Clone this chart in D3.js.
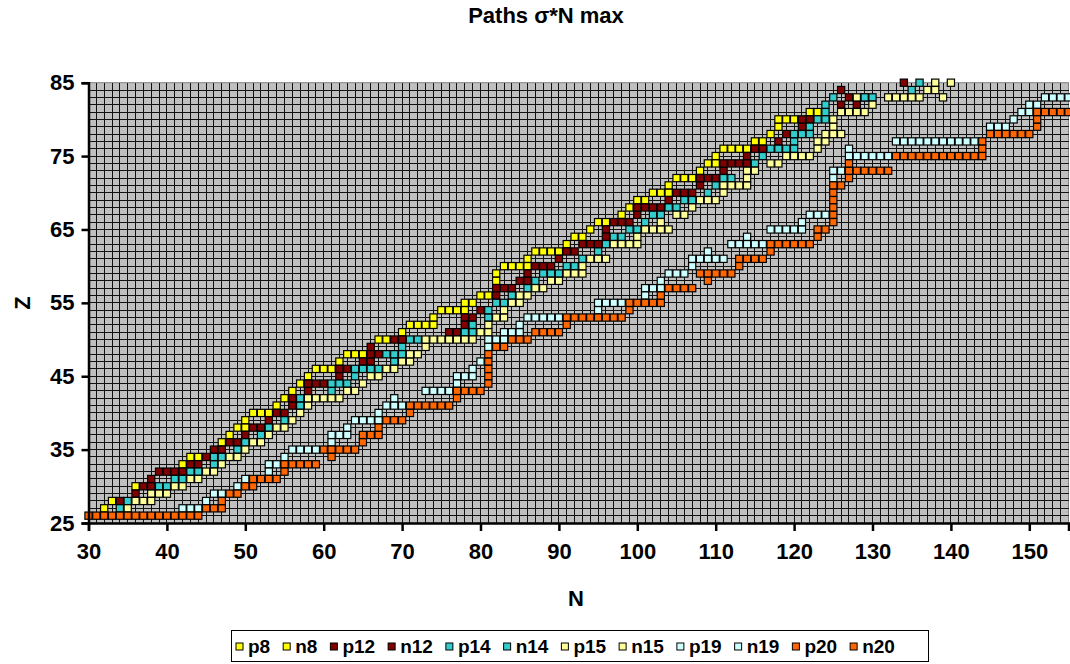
<!DOCTYPE html>
<html>
<head>
<meta charset="utf-8">
<title>Paths sigma*N max</title>
<script src="https://d3js.org/d3.v7.min.js"></script>
<style>
  body { margin: 0; background: #fff; }
  svg text { font-family: "Liberation Sans", Arial, sans-serif; font-weight: bold; fill: #000; }
</style>
</head>
<body>
<script>

// each entry is a run of markers on one row: [Z, first N, last N]
var p8  = [[27,32,32],[33,42,42],[37,48,48],[39,50,50],[41,54,54],[43,56,56],[45,58,58],[47,62,62],[51,70,70],[53,74,74],[55,78,79],[59,82,82],[61,86,86],[63,91,91],[65,94,94],[67,98,98],[69,100,101],[71,104,104],[73,108,108],[75,110,110],[77,115,116],[79,118,118],[81,122,123]];
var n8  = [[28,33,33],[30,36,36],[34,43,44],[36,47,47],[38,49,50],[40,51,53],[42,55,55],[44,57,57],[46,59,61],[48,63,65],[50,67,68],[52,71,74],[54,75,78],[56,80,81],[58,82,82],[60,83,86],[62,87,90],[64,92,93],[66,95,96],[68,99,99],[70,102,104],[72,105,107],[74,109,110],[76,111,114],[78,117,117],[80,118,120]];
var p12 = [[29,36,36],[31,38,38],[33,43,44],[35,46,47],[37,50,50],[39,53,53],[41,56,56],[43,58,58],[45,62,62],[47,65,66],[49,66,66],[51,76,77],[53,78,79],[57,82,84],[59,86,86],[61,90,90],[63,93,95],[65,96,96],[67,100,100],[69,104,104],[71,108,108],[73,111,111],[75,114,114],[77,118,118],[79,121,121],[83,127,127],[83,129,129],[85,134,134]];
var n12 = [[28,34,34],[30,37,38],[32,39,42],[34,45,45],[36,48,49],[38,51,52],[40,54,55],[42,56,56],[44,58,60],[46,62,63],[48,66,67],[50,69,70],[52,78,78],[54,80,80],[56,82,82],[58,85,86],[60,87,89],[62,91,92],[64,96,96],[66,97,99],[68,100,103],[70,105,107],[72,108,110],[74,111,114],[76,115,116],[78,119,119],[80,121,122],[82,126,126],[82,128,128],[84,126,126]];
var p14 = [[27,34,34],[31,41,42],[33,46,46],[35,49,49],[37,52,52],[39,55,55],[41,57,57],[43,61,61],[45,64,64],[47,69,69],[49,70,70],[51,78,79],[53,81,81],[55,82,83],[57,86,86],[59,88,90],[61,93,93],[63,96,96],[65,99,100],[67,102,103],[69,106,107],[71,110,110],[75,116,116],[77,120,120],[79,122,122],[81,124,124],[83,125,125],[83,129,130],[85,136,136]];
var n14 = [[28,35,35],[30,39,40],[32,43,44],[34,46,47],[36,50,50],[38,53,53],[42,57,57],[44,61,63],[46,64,67],[48,68,70],[50,71,72],[52,79,79],[54,81,81],[56,84,84],[58,87,87],[60,91,92],[62,95,95],[64,97,98],[66,101,101],[68,104,105],[70,109,109],[72,111,112],[74,115,115],[76,117,120],[78,120,122],[80,123,124],[82,124,124],[84,135,135]];
var p15 = [[27,35,35],[29,38,40],[31,43,44],[33,47,47],[35,50,50],[37,53,53],[39,56,56],[41,58,58],[43,63,64],[45,66,67],[47,70,71],[49,73,73],[51,80,81],[53,82,83],[55,84,85],[57,87,88],[59,91,93],[61,94,96],[63,97,100],[65,101,104],[67,105,106],[69,108,110],[71,111,114],[73,114,115],[75,119,122],[77,123,124],[79,125,125],[81,126,129],[83,128,128],[83,132,136],[83,139,139],[85,138,138],[85,140,140]];
var n15 = [[28,36,38],[30,41,42],[32,45,46],[34,48,49],[36,51,52],[38,54,55],[40,57,57],[42,58,62],[44,65,65],[46,68,69],[48,71,72],[50,73,79],[52,81,81],[54,83,83],[56,85,86],[58,89,90],[60,93,93],[64,100,100],[66,103,103],[68,107,107],[70,111,111],[72,114,114],[74,117,118],[76,123,123],[78,124,126],[80,125,125],[82,130,130],[84,137,138]];
var p19 = [[27,42,44],[29,46,47],[31,50,50],[33,53,54],[35,56,59],[37,61,63],[39,64,67],[41,68,70],[43,73,76],[45,77,79],[47,80,80],[49,81,81],[51,83,85],[53,86,90],[55,95,98],[57,101,103],[59,104,106],[61,107,111],[63,112,116],[65,117,121],[67,122,124],[73,125,126],[75,127,132],[77,133,143],[79,145,147],[81,149,150],[83,152,155]];
var n19 = [[28,45,45],[30,49,49],[32,53,53],[34,55,55],[36,61,61],[38,63,63],[40,67,67],[42,69,69],[44,77,77],[46,79,79],[50,81,83],[52,85,85],[54,95,95],[56,101,101],[58,103,103],[60,107,107],[62,109,109],[64,114,114],[66,121,121],[72,125,125],[76,127,127],[80,148,148],[82,150,151]];
var p20 = [[27,45,47],[29,48,49],[31,51,54],[33,55,59],[35,60,64],[37,65,67],[39,68,70],[41,71,76],[43,77,80],[45,81,81],[47,81,81],[49,82,83],[51,87,90],[53,91,98],[55,99,103],[57,104,107],[59,108,112],[61,113,116],[63,117,122],[65,123,124],[67,125,125],[69,125,125],[71,125,126],[73,127,132],[75,133,144],[77,144,144],[79,151,151],[81,151,155]];
var n20 = [[26,30,44],[28,47,47],[30,50,51],[32,55,55],[34,61,61],[36,65,65],[38,67,67],[40,71,71],[42,77,77],[44,81,81],[46,81,81],[48,81,81],[50,84,86],[52,91,91],[54,99,99],[56,103,103],[58,109,109],[60,113,113],[62,117,117],[64,123,123],[66,125,125],[68,125,125],[70,125,125],[72,127,127],[74,127,127],[76,144,144],[78,145,150],[80,151,151]];

var seriesNames = ['p8', 'n8', 'p12', 'n12', 'p14', 'n14', 'p15', 'n15', 'p19', 'n19', 'p20', 'n20'];
var seriesData = [p8, n8, p12, n12, p14, n14, p15, n15, p19, n19, p20, n20];
var seriesColors = ['#FFFF00', '#FFFF00', '#800000', '#800000', '#33CCCC', '#33CCCC',
                    '#FFFF99', '#FFFF99', '#CCFFFF', '#CCFFFF', '#FF6600', '#FF6600'];

var xDomain = [30, 155], yDomain = [25, 85];
var xTicks = [30, 40, 50, 60, 70, 80, 90, 100, 110, 120, 130, 140, 150];
var yTicks = [25, 35, 45, 55, 65, 75, 85];

var outerWidth = 1070, outerHeight = 664;
var plot = {left: 88.5, right: 1068.5, top: 82.7, bottom: 523};

var x = d3.scaleLinear().domain(xDomain).range([plot.left, plot.right]);
var y = d3.scaleLinear().domain(yDomain).range([plot.bottom, plot.top]);

// runs -> list of [N, Z] markers
function cells(runs) {
	var pts = [];
	runs.forEach(function(r) {
		for (var n = r[1]; n <= r[2]; n++) pts.push([n, r[0]]);
	});
	return pts;
}

var svg = d3.select('body')
			.append('svg')
			.attr('width', outerWidth)
			.attr('height', outerHeight);

// plot background
svg.append('rect')
   .attr('x', plot.left)
   .attr('y', plot.top)
   .attr('width', plot.right - plot.left)
   .attr('height', plot.bottom - plot.top)
   .attr('fill', '#C0C0C0')
   .attr('stroke', '#808080')
   .attr('stroke-width', 1);

// unit grid
var grid = svg.append('g')
			  .attr('stroke', '#111')
			  .attr('stroke-width', 1)
			  .attr('shape-rendering', 'crispEdges');

grid.selectAll('line.v')
	.data(d3.range(xDomain[0] + 1, xDomain[1]))
	.enter()
	.append('line')
	.attr('class', 'v')
	.attr('x1', function(d) { return x(d); })
	.attr('x2', function(d) { return x(d); })
	.attr('y1', plot.top)
	.attr('y2', plot.bottom);

grid.selectAll('line.h')
	.data(d3.range(yDomain[0] + 1, yDomain[1]))
	.enter()
	.append('line')
	.attr('class', 'h')
	.attr('y1', function(d) { return y(d); })
	.attr('y2', function(d) { return y(d); })
	.attr('x1', plot.left)
	.attr('x2', plot.right);

// markers, series in order so the later ones sit on top
var ms = 7.2;
seriesData.forEach(function(runs, i) {
	svg.append('g')
	   .attr('class', 'series ' + seriesNames[i])
	   .selectAll('rect')
	   .data(cells(runs))
	   .enter()
	   .append('rect')
	   .attr('x', function(d) { return x(d[0]) - ms / 2; })
	   .attr('y', function(d) { return y(d[1]) - ms / 2; })
	   .attr('width', ms)
	   .attr('height', ms)
	   .attr('fill', seriesColors[i])
	   .attr('stroke', '#000')
	   .attr('stroke-width', 1.2);
});

// axes
var xAxis = d3.axisBottom(x).tickValues(xTicks).tickSize(8).tickPadding(12).tickFormat(d3.format('d'));
var yAxis = d3.axisLeft(y).tickValues(yTicks).tickSize(7).tickPadding(7).tickFormat(d3.format('d'));

var gx = svg.append('g')
			.attr('transform', 'translate(0,' + plot.bottom + ')')
			.call(xAxis);
var gy = svg.append('g')
			.attr('transform', 'translate(' + plot.left + ',0)')
			.call(yAxis);

[gx, gy].forEach(function(g) {
	g.select('.domain').attr('stroke', '#000').attr('stroke-width', 2.5);
	g.selectAll('.tick line').attr('stroke', '#000').attr('stroke-width', 2.5);
	g.selectAll('.tick text').style('font-size', '22px');
});

// titles
svg.append('text')
   .attr('x', 546)
   .attr('y', 23)
   .style('text-anchor', 'middle')
   .style('font-size', '22px')
   .text('Paths \u03C3*N max');

svg.append('text')
   .attr('x', 576)
   .attr('y', 606)
   .style('text-anchor', 'middle')
   .style('font-size', '22px')
   .text('N');

svg.append('text')
   .attr('transform', 'translate(30,303) rotate(-90)')
   .style('text-anchor', 'middle')
   .style('font-size', '22px')
   .text('Z');

// legend
var legend = svg.append('g');
legend.append('rect')
	  .attr('x', 231.5)
	  .attr('y', 630.5)
	  .attr('width', 697)
	  .attr('height', 31)
	  .attr('fill', '#fff')
	  .attr('stroke', '#000')
	  .attr('stroke-width', 1);

var lx = 236;
seriesNames.forEach(function(name, i) {
	legend.append('rect')
		  .attr('x', lx)
		  .attr('y', 643)
		  .attr('width', 7)
		  .attr('height', 7)
		  .attr('fill', seriesColors[i])
		  .attr('stroke', '#000')
		  .attr('stroke-width', 1);
	var t = legend.append('text')
				  .attr('x', lx + 12)
				  .attr('y', 653)
				  .style('font-size', '19px')
				  .text(name);
	lx += 12 + t.node().getComputedTextLength() + 13;
});

</script>
</body>
</html>
